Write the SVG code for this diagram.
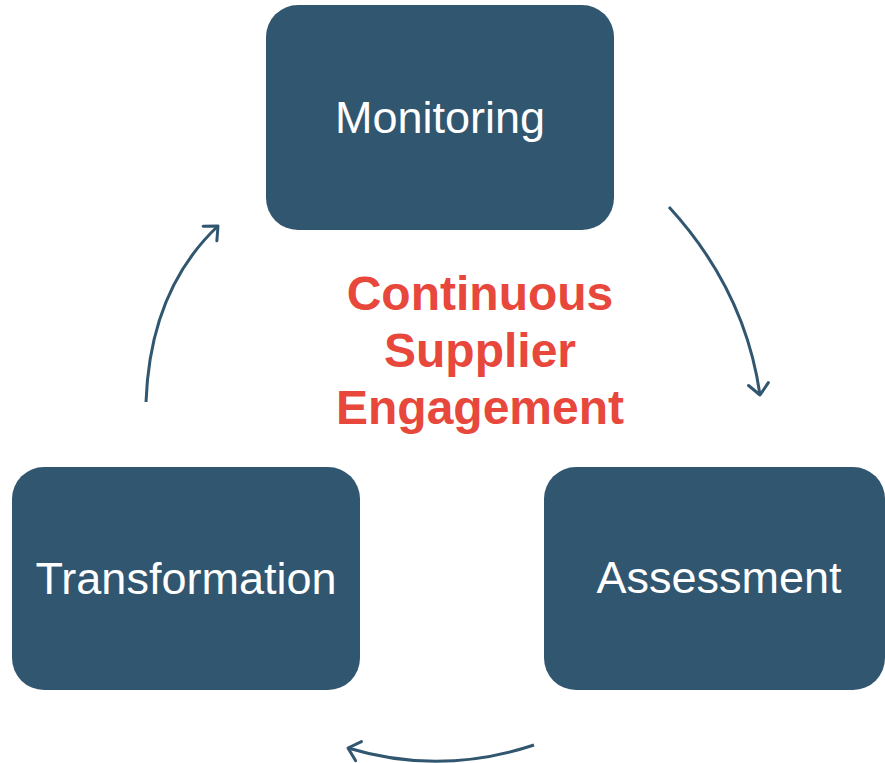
<svg xmlns="http://www.w3.org/2000/svg" width="885" height="763" viewBox="0 0 885 763">
<defs>
<style>
.box{fill:#31566f}
.lbl{font-family:"Liberation Sans",Arial,sans-serif;font-size:45px;fill:#ffffff;text-anchor:middle}
.ctr{font-family:"Liberation Sans",Arial,sans-serif;font-size:48px;font-weight:bold;fill:#e8473b;text-anchor:middle}
.conn{fill:none;stroke:#31566f;stroke-width:3}
</style>
<marker id="ah" markerUnits="userSpaceOnUse" markerWidth="30" markerHeight="30" refX="15" refY="15" orient="auto" viewBox="0 0 30 30">
<path d="M4,5 L15,15 L4,25" fill="none" stroke="#31566f" stroke-width="3" stroke-linecap="round" stroke-linejoin="round"/>
</marker>
</defs>
<rect width="885" height="763" fill="#ffffff"/>
<g id="monitoring">
<rect class="box" x="266" y="5" width="348" height="225" rx="32"/>
<text class="lbl" x="440" y="133">Monitoring</text>
</g>
<g id="assessment">
<rect class="box" x="544" y="467" width="341" height="223" rx="32"/>
<text class="lbl" x="719" y="593">Assessment</text>
</g>
<g id="transformation">
<rect class="box" x="12" y="467" width="348" height="223" rx="32"/>
<text class="lbl" x="186" y="594">Transformation</text>
</g>
<g id="center">
<text class="ctr" x="480" y="310">Continuous</text>
<text class="ctr" x="480" y="367">Supplier</text>
<text class="ctr" x="480" y="424">Engagement</text>
</g>
<g id="connectors">
<path class="conn" d="M669,207 Q745,290 760,395" marker-end="url(#ah)"/>
<path class="conn" d="M534,745 Q440,776 348,748" marker-end="url(#ah)"/>
<path class="conn" d="M146,402 Q150,290 218,226" marker-end="url(#ah)"/>
</g>
</svg>
